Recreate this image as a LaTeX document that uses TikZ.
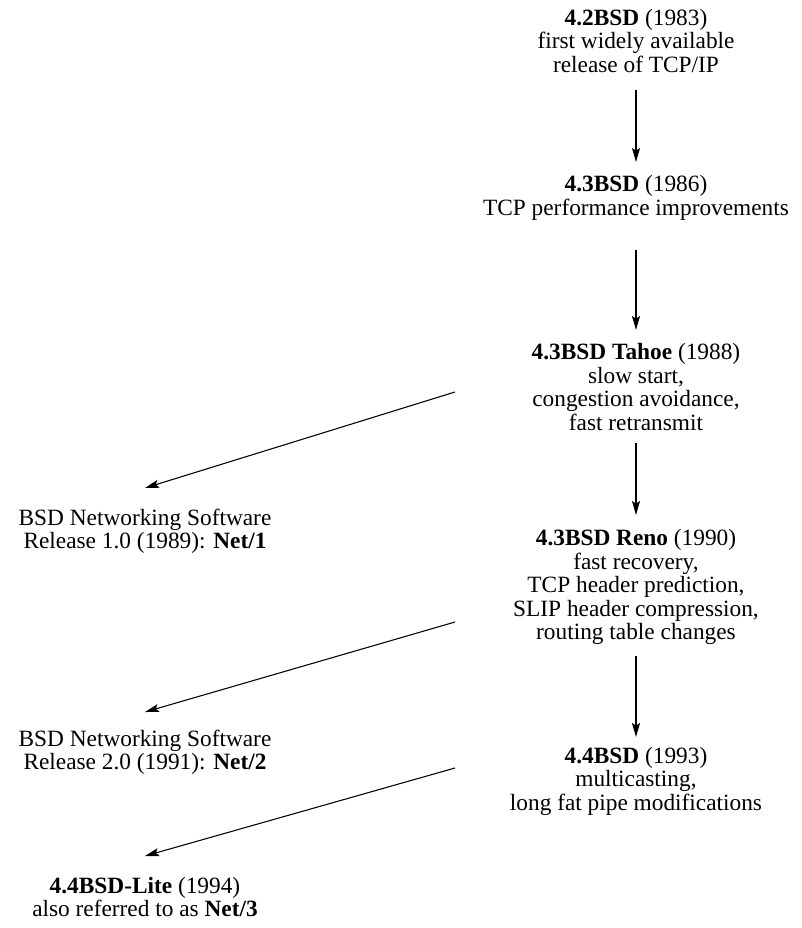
\documentclass[tikz,border=0pt]{standalone}
\usepackage{fontspec}
\setmainfont{Liberation Serif}
\usetikzlibrary{arrows.meta}
\begin{document}
\begin{tikzpicture}[x=0.75pt,y=-0.75pt,
  txt/.style={align=center, inner sep=0pt, font=\fontsize{17.5}{17.6}\selectfont},
  arr/.style={-{Stealth[length=10.5pt,width=6pt,inset=2pt]}, line width=0.8pt},
  thickarr/.style={arr, line width=1.2pt}]
\useasboundingbox (0,0) rectangle (801,928);

% right column
\node[txt] (n42) at (636,41) {\textbf{4.2BSD} (1983)\\first widely available\\release of TCP/IP};
\node[txt] (n43) at (636,198) {\textbf{4.3BSD} (1986)\\TCP performance improvements};
\node[txt] (tahoe) at (636,387) {\textbf{4.3BSD Tahoe} (1988)\\slow start,\\congestion avoidance,\\fast retransmit};
\node[txt] (reno) at (636,587) {\textbf{4.3BSD Reno} (1990)\\fast recovery,\\TCP header prediction,\\SLIP header compression,\\routing table changes};
\node[txt] (n44) at (636,781) {\textbf{4.4BSD} (1993)\\multicasting,\\long fat pipe modifications};

% left column
\node[txt] (net1) at (145,531) {BSD Networking Software\\Release 1.0 (1989): \textbf{Net/1}};
\node[txt] (net2) at (145,752) {BSD Networking Software\\Release 2.0 (1991): \textbf{Net/2}};
\node[txt] (lite) at (145,897) {\textbf{4.4BSD-Lite} (1994)\\also referred to as \textbf{Net/3}};

% vertical arrows
\draw[arr] ([yshift=-36.75pt]n42.center) -- ([yshift=27pt]n43.center);
\draw[thickarr] ([yshift=-39pt]n43.center) -- ([yshift=42.75pt]tahoe.center);
\draw[arr] ([yshift=-42pt]tahoe.center) -- ([yshift=54pt]reno.center);
\draw[thickarr] ([yshift=-51.75pt]reno.center) -- ([yshift=33pt]n44.center);

% diagonal arrows
\draw[arr] ([xshift=-135.75pt,yshift=-3.75pt]tahoe.center) -- ([yshift=32.25pt]net1.center);
\draw[arr] ([xshift=-135.75pt,yshift=-26.25pt]reno.center) -- ([yshift=30pt]net2.center);
\draw[arr] ([xshift=-135.75pt,yshift=9.75pt]n44.center) -- ([yshift=30.75pt]lite.center);
\end{tikzpicture}
\end{document}
